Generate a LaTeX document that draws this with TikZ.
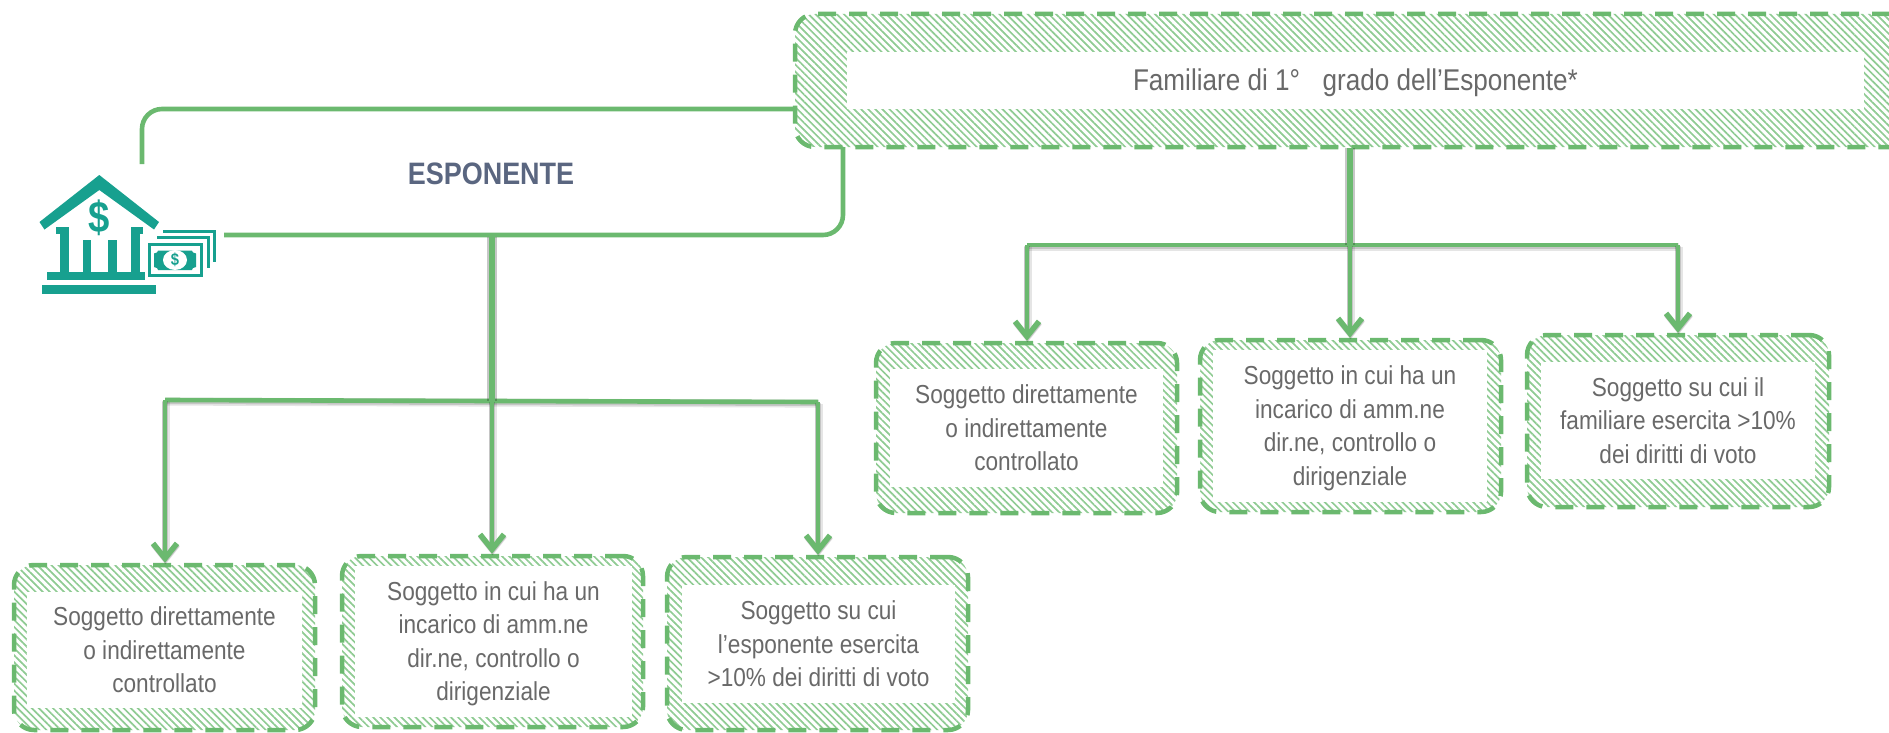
\documentclass[tikz,border=0pt]{standalone}
\usepackage{fontspec}
\setmainfont{Liberation Sans}[FakeStretch=0.87]
\usetikzlibrary{arrows.meta,patterns.meta}
\definecolor{gr}{HTML}{6BB96F}
\definecolor{hatch}{HTML}{8FCB93}
\definecolor{tealc}{HTML}{17A08F}
\definecolor{txt}{HTML}{696969}
\definecolor{esp}{HTML}{5A6680}
\tikzset{
  hatchbox/.style={rectangle,rounded corners=20pt,inner sep=0pt,draw=gr,line width=4.5pt,
    dash pattern=on 18pt off 13pt,
    pattern={Lines[angle=-45,distance=5pt,line width=1.7pt]},pattern color=hatch},
  whitebox/.style={rectangle,inner sep=0pt,fill=white},
  boxtext/.style={inner sep=0pt,align=center,text=txt,font=\fontsize{26}{33.5}\selectfont},
  link/.style={draw=gr,line width=4.6pt},
  shadowed/.style={preaction={draw=black,opacity=.10,line width=8pt,transform canvas={xshift=.6pt,yshift=-1.6pt}},
    preaction={draw=black,opacity=.14,line width=6pt,transform canvas={xshift=.3pt,yshift=-1pt}}},
  flow/.style={link,shadowed,-{Straight Barb[length=15pt,width=24pt,line width=5.5pt]}},
  bus/.style={link,shadowed,line join=miter},
  trunk/.style={link,line width=5.5pt,preaction={draw=black,opacity=.22,line width=10pt,transform canvas={xshift=-.5pt}}},
  icon/.style={fill=tealc,draw=none},
}
\newcommand{\hbx}[9]{%
  \node[hatchbox,minimum width={(#4-#2)*1pt},minimum height={(#5-#3)*1pt}] (#1) at ({(#2+#4)/2},{(#3+#5)/2}) {};
  \node[whitebox,minimum width={(#8-#6)*1pt},minimum height={(#9-#7)*1pt}] (#1w) at ({(#6+#8)/2},{(#7+#9)/2}) {};}
\begin{document}
\begin{tikzpicture}[x=1pt,y=-1pt]
\useasboundingbox (0,0) rectangle (1889,733);
% frame of ESPONENTE
\coordinate (fa) at (142,164);
\coordinate (fb) at (224,235);
\coordinate (fc) at (795,109);
\coordinate (fd) at (843,147);
% boxes
\hbx{fam}{795}{14}{1910}{147}{847}{52}{1864}{109}
\node[boxtext,font=\fontsize{30}{34}\selectfont] (famt) at ([yshift=-2pt]famw.center) {Familiare di 1°\hspace{.75em}grado dell’Esponente*};
\hbx{a}{14}{565}{315}{730}{27}{592}{302}{708}
\node[boxtext] (at) at (aw.center) {Soggetto direttamente\\o indirettamente\\controllato};
\hbx{b}{342}{556}{643}{727}{355}{566}{632}{717}
\node[boxtext] (bt) at ([yshift=-2.5pt]bw.center) {Soggetto in cui ha un\\incarico di amm.ne\\dir.ne, controllo o\\dirigenziale};
\hbx{c}{667}{557}{968}{730}{682}{585}{955}{703}
\node[boxtext] (ct) at (cw.center) {Soggetto su cui\\l’esponente esercita\\>10\% dei diritti di voto};
\hbx{d}{876}{343}{1177}{513}{890}{369}{1163}{487}
\node[boxtext] (dt) at (dw.center) {Soggetto direttamente\\o indirettamente\\controllato};
\hbx{e}{1200}{340}{1501}{512}{1213}{350}{1487}{502}
\node[boxtext] (et) at ([yshift=-2.5pt]ew.center) {Soggetto in cui ha un\\incarico di amm.ne\\dir.ne, controllo o\\dirigenziale};
\hbx{f}{1527}{335}{1829}{507}{1541}{362}{1815}{479}
\node[boxtext] (ft) at (fw.center) {Soggetto su cui il\\familiare esercita >10\%\\dei diritti di voto};
\node[text=esp,font=\fontsize{31}{36}\bfseries\selectfont,inner sep=0pt] (esp) at (491,173.5) {ESPONENTE};
% ESPONENTE frame
\draw[link,rounded corners=20pt] (fa) |- (fc);
\draw[link,rounded corners=20pt] (fb) -| (fd);
% lower connectors
\coordinate (ls) at (492,237);
\coordinate (lj) at (492,401);
\coordinate (ljl) at (165,400);
\coordinate (ljr) at (818,402);
\draw[bus] (ljl) -- (lj);
\draw[bus] (lj) -- (ljr);
\draw[flow] (ljl) -- (ljl |- a.north);
\draw[flow] (ljr) -- (ljr |- c.north);
\draw[flow] (lj) -- (lj |- b.north);
\draw[trunk] (ls) -- (lj);
% upper connectors
\coordinate (us) at (fam.south -| 1350,0);
\coordinate (uj) at (1350,245);
\coordinate (ujl) at (1027,245);
\coordinate (ujr) at (1678,245);
\draw[bus] (ujl) -- (ujr);
\draw[flow] (ujl) -- (ujl |- d.north);
\draw[flow] (ujr) -- (ujr |- f.north);
\draw[flow] (uj) -- (uj |- e.north);
\draw[trunk] (us) -- (uj);
% bank icon
\fill[icon] (99.3,175) -- (159,222) -- (154,229.5) -- (99.3,190) -- (44.5,229.5) -- (39.5,222) -- cycle;
\node[text=tealc,font=\fontsize{44}{44}\bfseries\selectfont,inner sep=0pt] (dollar) at (99,218) {\$};
\fill[icon] (56,227) rectangle (68,234);
\fill[icon] (60,227) rectangle (68.5,272);
\fill[icon] (131,227) rectangle (143,234);
\fill[icon] (131,227) rectangle (139.5,272);
\fill[icon] (82.5,240) rectangle (91,272);
\fill[icon] (108,240) rectangle (116.5,272);
\fill[icon] (46.5,272) rectangle (144.5,280);
\fill[icon] (42,285) rectangle (156,294);
\draw[tealc,line width=3pt] (163,231) -- (214,231) -- (214,262);
\draw[tealc,line width=3pt] (157,237) -- (208,237) -- (208,268);
\fill[white] (147,242) rectangle (204,278);
\draw[tealc,line width=3pt] (149.5,244.5) rectangle (201.5,275.5);
\fill[icon] (158,250.5) -- (192,250.5) .. controls (192,252) and (193,253) .. (196,253.5) -- (196,267) .. controls (193,267.5) and (192,268.5) .. (192,270) -- (158,270) .. controls (158,268.5) and (157,267.5) .. (154,267) -- (154,253.5) .. controls (157,253) and (158,252) .. (158,250.5) -- cycle;
\fill[white] (175,260) ellipse (12 and 10);
\node[text=tealc,font=\fontsize{17}{17}\bfseries\selectfont,inner sep=0pt] (dollarb) at (175,260) {\$};
\end{tikzpicture}
\end{document}
